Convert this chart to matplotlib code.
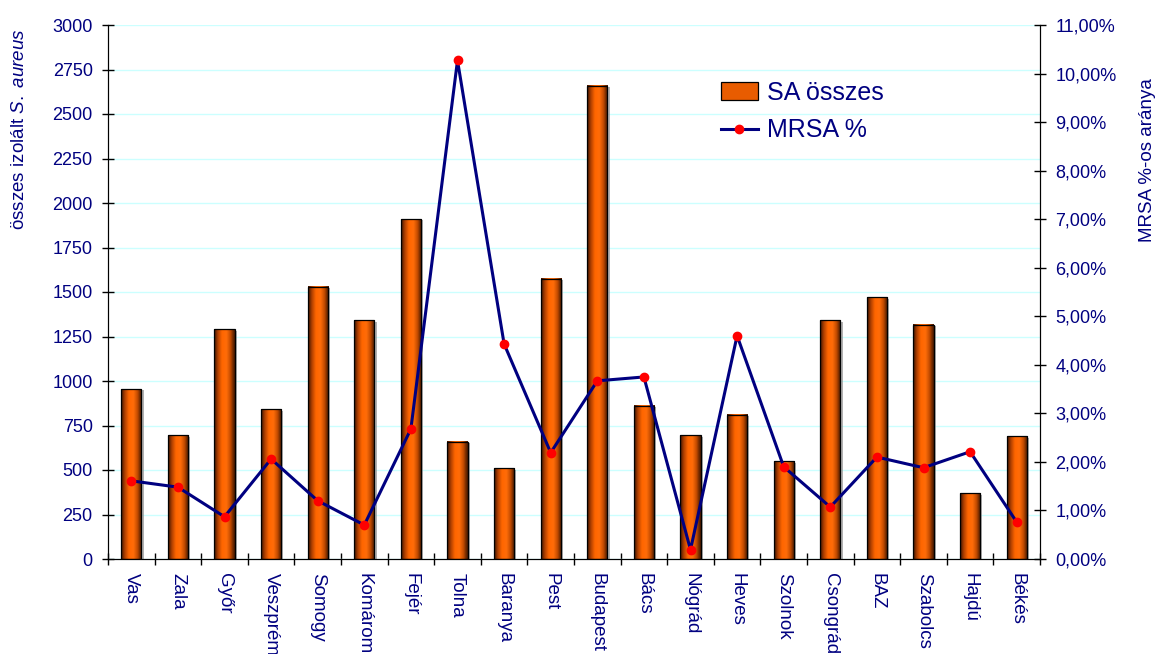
import numpy as np
import matplotlib.pyplot as plt
from matplotlib.colors import LinearSegmentedColormap
from matplotlib.patches import Rectangle
from matplotlib.lines import Line2D
from matplotlib.ticker import FuncFormatter, MultipleLocator

plt.rcParams['font.family'] = ['Liberation Sans', 'DejaVu Sans']
plt.rcParams['mathtext.fontset'] = 'custom'
plt.rcParams['mathtext.rm'] = 'Liberation Sans'
plt.rcParams['mathtext.it'] = 'Liberation Sans:italic'

counties = ['Vas', 'Zala', 'Győr', 'Veszprém', 'Somogy', 'Komárom', 'Fejér',
            'Tolna', 'Baranya', 'Pest', 'Budapest', 'Bács', 'Nógrád', 'Heves',
            'Szolnok', 'Csongrád', 'BAZ', 'Szabolcs', 'Hajdú', 'Békés']
sa_total = [955, 695, 1290, 840, 1530, 1340, 1910, 660, 510, 1575,
            2660, 860, 695, 810, 550, 1340, 1470, 1315, 370, 690]
mrsa_pct = [1.61, 1.48, 0.87, 2.06, 1.20, 0.70, 2.68, 10.27, 4.43, 2.19,
            3.67, 3.75, 0.19, 4.60, 1.90, 1.07, 2.10, 1.88, 2.21, 0.76]

NAVY = '#000080'
GRID = '#ccffff'
BAR_W = 0.43

cyl = LinearSegmentedColormap.from_list('cyl', [
    (0.0, '#3a1400'), (0.18, '#b04000'), (0.38, '#ff6600'),
    (0.6, '#ff6c08'), (0.8, '#c04a00'), (0.9, '#7a2e00'), (1.0, '#4a1a00')])

fig = plt.figure(figsize=(11.57, 6.54), dpi=100)
ax = fig.add_axes([108 / 1157, 1 - 559 / 654, 932 / 1157, 534 / 654])

x = np.arange(len(counties))
grad = np.linspace(0, 1, 64).reshape(1, -1)
for xi, h in zip(x, sa_total):
    x0 = xi - BAR_W / 2
    # soft shadow on the right side of the bar
    ax.add_patch(Rectangle((x0 + 0.05, 0), BAR_W, h - 8, color='#909090',
                           alpha=0.7, lw=0, zorder=1.8))
    ax.imshow(grad, cmap=cyl, extent=(x0, x0 + BAR_W, 0, h), aspect='auto',
              interpolation='bilinear', zorder=2)
    ax.add_patch(Rectangle((x0, 0), BAR_W, h, fill=False, ec='black',
                           lw=0.9, zorder=2.1))

ax.set_xlim(-0.5, len(counties) - 0.5)
ax.set_ylim(0, 3000)
ax.yaxis.set_major_locator(MultipleLocator(250))
ax.grid(axis='y', color=GRID, lw=1)
ax.set_axisbelow(True)

ax.set_xticks(x)
ax.set_xticklabels(counties, rotation=270, ha='center', va='top',
                   fontsize=13.5, color=NAVY)
ax.set_xticks(np.arange(-0.5, len(counties)), minor=True)
ax.tick_params(axis='x', which='major', length=0, pad=10)
ax.tick_params(axis='x', which='minor', length=8, direction='inout', width=1)
ax.tick_params(axis='y', length=8, direction='inout', width=1,
               labelsize=13, labelcolor=NAVY, pad=7)

ax2 = ax.twinx()
ax2.plot(x, mrsa_pct, color=NAVY, lw=2.2, marker='o', markersize=6,
         markerfacecolor='red', markeredgecolor='red', zorder=3)
ax2.set_ylim(0, 11)
ax2.yaxis.set_major_locator(MultipleLocator(1))
ax2.yaxis.set_major_formatter(
    FuncFormatter(lambda v, _: f'{v:.2f}%'.replace('.', ',')))
ax2.tick_params(axis='y', length=8, direction='inout', width=1,
                labelsize=13, labelcolor=NAVY, pad=7)

for a in (ax, ax2):
    a.spines['top'].set_visible(False)

fig.text(20 / 1157, 1 - 28 / 654, 'összes izolált $\\it{S.\\ aureus}$',
         rotation=90, ha='center', va='top', fontsize=13.5, color=NAVY)
fig.text(1148 / 1157, 1 - 160 / 654, 'MRSA %-os aránya', rotation=90,
         ha='center', va='center', fontsize=13.5, color=NAVY)

handles = [
    Rectangle((0, 0), 1, 1, fc='#e85c00', ec='black', lw=0.9),
    Line2D([], [], color=NAVY, lw=2.2, marker='o', markersize=6,
           markerfacecolor='red', markeredgecolor='red'),
]
fig.legend(handles, ['SA összes', 'MRSA %'], loc='upper left',
           bbox_to_anchor=(698 / 1157, 1 - 58 / 654), frameon=False,
           fontsize=18, labelcolor=NAVY, handlelength=1.5,
           handletextpad=0.36, labelspacing=0.55)

fig.savefig('out.png', dpi=100)
